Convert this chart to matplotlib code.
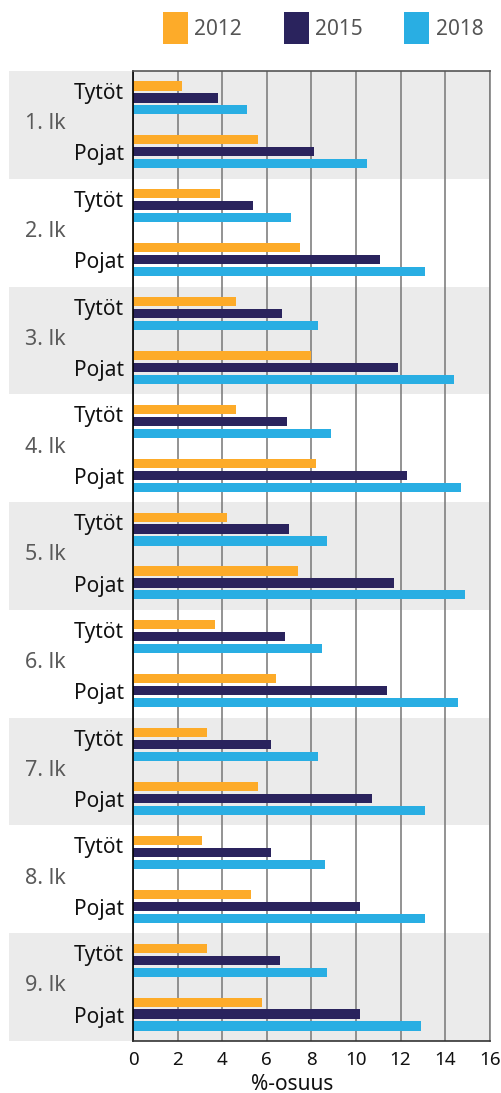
import matplotlib.pyplot as plt
from matplotlib.patches import Patch, Rectangle
from matplotlib.transforms import blended_transform_factory

plt.rcParams['font.family'] = ['Noto Sans', 'DejaVu Sans']

grades = ["1. lk", "2. lk", "3. lk", "4. lk", "5. lk", "6. lk", "7. lk", "8. lk", "9. lk"]
groups = ["Tytöt", "Pojat"]
years = ["2012", "2015", "2018"]

# values per grade, per group (Tytöt, Pojat)
tytot_2012 = [2.2, 3.9, 4.6, 4.6, 4.2, 3.7, 3.3, 3.1, 3.3]
tytot_2015 = [3.8, 5.4, 6.7, 6.9, 7.0, 6.8, 6.2, 6.2, 6.6]
tytot_2018 = [5.1, 7.1, 8.3, 8.9, 8.7, 8.5, 8.3, 8.6, 8.7]
pojat_2012 = [5.6, 7.5, 8.0, 8.2, 7.4, 6.4, 5.6, 5.3, 5.8]
pojat_2015 = [8.1, 11.1, 11.9, 12.3, 11.7, 11.4, 10.7, 10.2, 10.2]
pojat_2018 = [10.5, 13.1, 14.4, 14.7, 14.9, 14.6, 13.1, 13.1, 12.9]

colors = ["#FDAB29", "#2A235D", "#29AEE3"]
band_color = "#EBEBEB"

fig = plt.figure(figsize=(5.01, 10.93), dpi=100)
ax = fig.add_axes([133 / 501, 52 / 1093, 356.7 / 501, 970 / 1093])

tytot = [tytot_2012, tytot_2015, tytot_2018]
pojat = [pojat_2012, pojat_2015, pojat_2018]
offsets = [-0.222, 0.0, 0.222]
bar_h = 0.17

for k in range(3):
    yt = [2 * i + 0.5 + offsets[k] for i in range(len(grades))]
    yp = [2 * i + 1.5 + offsets[k] for i in range(len(grades))]
    ax.barh(yt, tytot[k], height=bar_h, color=colors[k], zorder=3)
    ax.barh(yp, pojat[k], height=bar_h, color=colors[k], zorder=3)

ax.set_xlim(0, 16)
ax.set_ylim(2 * len(grades), 0)

# grey bands for odd grades, extending into the label area
trans = blended_transform_factory(ax.transAxes, ax.transData)
x0 = (9 - 133) / 356.7
for i in range(0, len(grades), 2):
    ax.add_patch(Rectangle((x0, 2 * i), 1 - x0, 2, transform=trans,
                           facecolor=band_color, edgecolor="none",
                           clip_on=False, zorder=0))

lab_x = (124 - 133) / 356.7
gr_x = (25 - 133) / 356.7
for i, g in enumerate(grades):
    ax.text(lab_x, 2 * i + 0.52, groups[0], transform=trans, ha="right",
            va="baseline", fontsize=15, color="#111111")
    ax.text(lab_x, 2 * i + 1.66, groups[1], transform=trans, ha="right",
            va="baseline", fontsize=15, color="#111111")
    ax.text(gr_x, 2 * i + 1.08, g, transform=trans, ha="left",
            va="baseline", fontsize=15.5, color="#5A5A5A")

ax.set_yticks([])
ax.set_xticks(range(0, 17, 2))
ax.tick_params(axis="x", length=0, pad=7, labelsize=13.5, labelcolor="#111111")
ax.grid(axis="x", color="#808080", linewidth=1.2, zorder=1)
ax.set_axisbelow(False)
for line in ax.get_xgridlines():
    line.set_zorder(1)

ax.set_facecolor("none")
ax.spines["left"].set_color("black")
ax.spines["bottom"].set_color("#333333")
ax.spines["top"].set_color("#555555")
ax.spines["right"].set_color("#808080")
for s in ax.spines.values():
    s.set_linewidth(1.2)
    s.set_zorder(4)

ax.set_xlabel("%-osuus", fontsize=15, color="#111111")
ax.xaxis.set_label_coords((291.7 - 133) / 356.7, -0.034)

handles = [Patch(facecolor=c, edgecolor="none") for c in colors]
fig.legend(handles, years, loc="upper left", bbox_to_anchor=(163 / 501, 1 - 12 / 1093),
           ncol=3, frameon=False, fontsize=15, handlelength=1.2, handleheight=2.0,
           handletextpad=0.3, columnspacing=2.0, borderpad=0, borderaxespad=0,
           labelcolor="#555555")

fig.savefig("out.png", dpi=100)
